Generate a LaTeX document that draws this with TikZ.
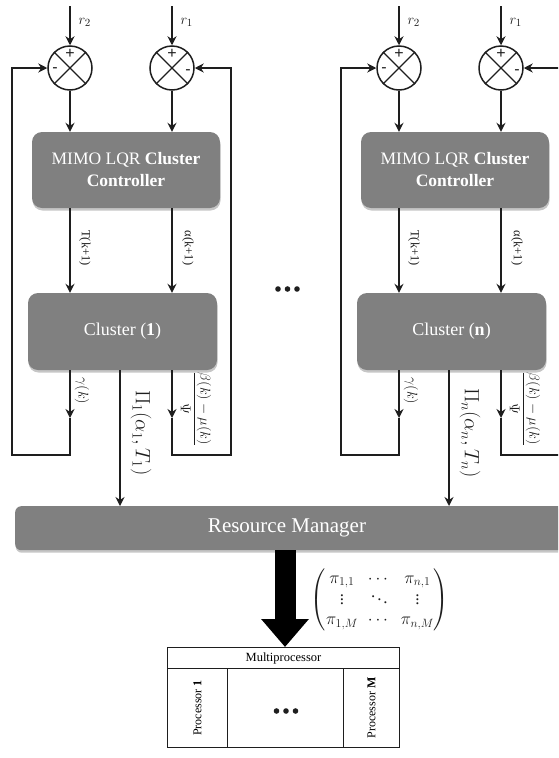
\documentclass[tikz,border=0pt]{standalone}
\usepackage{amsmath}
\usepackage{fontspec}
\setmainfont{Liberation Serif}
\newfontfamily\signfont{Liberation Sans}
\usetikzlibrary{arrows.meta,shadows,calc}
\definecolor{boxgray}{RGB}{128,128,128}
\definecolor{ln}{RGB}{30,30,30}
\tikzset{
  conn/.style={draw=ln, line width=1.7pt},
  arr/.style={conn, -{Stealth[length=9pt,width=9pt,inset=3pt]}},
  sumj/.style={circle, draw=ln, line width=1.5pt, minimum size=44pt, inner sep=0pt},
  grayblock/.style={rounded corners=10pt, fill=boxgray, text=white,
     drop shadow={opacity=0.45, shadow xshift=0.5pt, shadow yshift=-2.5pt}},
  lbl/.style={font=\fontsize{12.5}{13}\selectfont, inner sep=1pt, text=ln},
  sign/.style={font=\signfont\fontsize{16}{16}\selectfont, inner sep=0pt, text=ln},
  cell/.style={draw=ln, line width=1pt, inner sep=0pt, anchor=north west},
}
\begin{document}
\begin{tikzpicture}[x=1pt, y=-1pt]
\useasboundingbox (0,0) rectangle (558,758);
\clip (0,0) rectangle (558,758);

% Resource manager
\node[grayblock, rounded corners=6pt, minimum width=555pt, minimum height=44pt, anchor=north west, inner sep=0pt] (rm) at (15,506) {};
\node[text=white, font=\fontsize{21}{24}\selectfont] (rmtext) at (287,528) {Resource Manager};

\foreach \dx/\cl/\nm in {0/1/a, 329/n/b}{
  % summing junctions
  \node[sumj] (sA\nm) at (70+\dx,68) {};
  \node[sumj] (sB\nm) at (172+\dx,68) {};
  \draw[ln, line width=1.2pt] (sA\nm.north west) -- (sA\nm.south east) (sA\nm.north east) -- (sA\nm.south west);
  \draw[ln, line width=1.2pt] (sB\nm.north west) -- (sB\nm.south east) (sB\nm.north east) -- (sB\nm.south west);
  \node[sign] at (70+\dx,54) {+};
  \node[sign] at (55+\dx,70) {-};
  \node[sign] at (172+\dx,54) {+};
  \node[sign] at (188+\dx,72) {-};
  % references
  \coordinate (rA\nm) at (70+\dx,6);
  \coordinate (rB\nm) at (172+\dx,6);
  \draw[arr] (rA\nm) -- (sA\nm);
  \draw[arr] (rB\nm) -- (sB\nm);
  \node[anchor=west, font=\fontsize{15}{15}\selectfont, text=ln] at (75+\dx,22) {$r_2$};
  \node[anchor=west, font=\fontsize{15}{15}\selectfont, text=ln] at (177+\dx,22) {$r_1$};
  % controller and cluster
  \node[grayblock, minimum width=188pt, minimum height=76pt, align=center,
        font=\fontsize{17.5}{22}\selectfont] (ctrl\nm) at (126+\dx,170)
        {MIMO LQR \textbf{Cluster}\\\textbf{Controller}};
  \node[grayblock, minimum width=189pt, minimum height=77pt,
        font=\fontsize{18}{22}\selectfont] (clu\nm) at (122.5+\dx,331.5)
        {Cluster (\textbf{\cl})};
  \draw[arr] (sA\nm) -- (sA\nm |- ctrl\nm.north);
  \draw[arr] (sB\nm) -- (sB\nm |- ctrl\nm.north);
  \draw[arr] (sA\nm |- ctrl\nm.south) -- (sA\nm |- clu\nm.north);
  \draw[arr] (sB\nm |- ctrl\nm.south) -- (sB\nm |- clu\nm.north);
  \node[lbl, rotate=-90] at (85+\dx,248) {T(k+1)};
  \node[lbl, rotate=-90] at (188+\dx,248) {α(k+1)};
  % feedback loops
  \coordinate (gA\nm) at (70+\dx,418);
  \coordinate (gB\nm) at (172+\dx,418);
  \coordinate (botL\nm) at (12+\dx,455);
  \coordinate (botR\nm) at (231+\dx,455);
  \draw[arr] (sA\nm |- clu\nm.south) -- (gA\nm);
  \draw[arr] (sB\nm |- clu\nm.south) -- (gB\nm);
  \draw[arr] (gA\nm) |- (botL\nm) -- (botL\nm |- sA\nm) -- (sA\nm.west);
  \draw[arr] (gB\nm) |- (botR\nm) -- (botR\nm |- sB\nm) -- (sB\nm.east);
  \node[lbl, rotate=-90, font=\fontsize{14.5}{15}\selectfont] at (82+\dx,391) {$\gamma(k)$};
  \node[lbl, rotate=-90, font=\fontsize{14}{16}\selectfont] at (196+\dx,409) {$\dfrac{\beta(k)-\mu(k)}{\Psi}$};
  % allocation request
  \coordinate (pit\nm) at (120+\dx,370);
  \draw[arr] (pit\nm) -- (pit\nm |- rm.north);
  \node[rotate=-90, font=\fontsize{20}{24}\selectfont, text=ln] at (141+\dx,433) {$\Pi_{\cl}(\alpha_{\cl},T_{\cl})$};
}

% dots between the clusters
\fill[ln] (278,289) circle (2.8pt) (287.5,289) circle (2.8pt) (297,289) circle (2.8pt);

% matrix
\node[font=\fontsize{17}{20}\selectfont, text=ln, inner sep=0pt] (mat) at (380,600)
 {$\begin{pmatrix} \pi_{1,1} & \cdots & \pi_{n,1}\\ \vdots & \ddots & \vdots \\ \pi_{1,M} & \cdots & \pi_{n,M}\end{pmatrix}$};

% multiprocessor
\node[cell, minimum width=232pt, minimum height=21pt, font=\fontsize{12.5}{14}\selectfont] (mphead) at (167,647) {Multiprocessor};
\node[cell, minimum width=60pt, minimum height=79pt] (p1) at (167,668) {};
\node[cell, minimum width=116pt, minimum height=79pt] (pdots) at (227,668) {};
\node[cell, minimum width=56pt, minimum height=79pt] (pM) at (343,668) {};
\node[rotate=90, font=\fontsize{12}{12}\selectfont] at (p1) {Processor \textbf{1}};
\node[rotate=90, font=\fontsize{12}{12}\selectfont] at (pM) {Processor \textbf{M}};
\fill[ln] (276.5,711) circle (2.8pt) (286,711) circle (2.8pt) (295.5,711) circle (2.8pt);

% big arrow
\coordinate (bigtop) at (285,550);
\draw[black, line width=21pt, -{Triangle[length=28pt 0 0, width=46pt 0 0]}] (bigtop) -- (bigtop |- mphead.north);
\end{tikzpicture}
\end{document}
